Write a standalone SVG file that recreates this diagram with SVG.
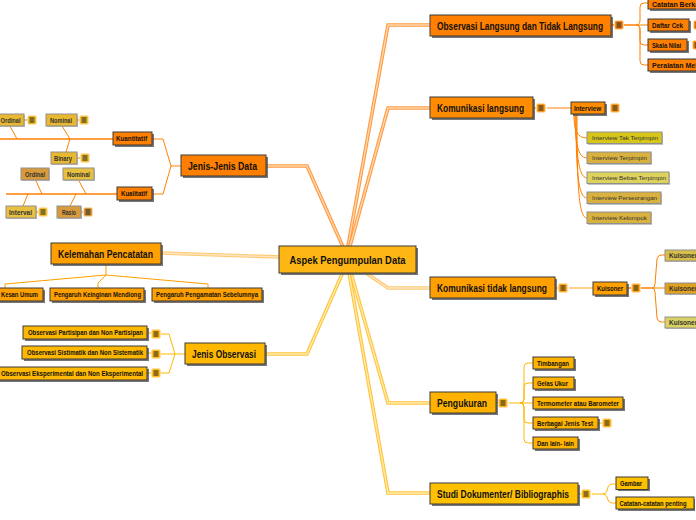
<svg xmlns="http://www.w3.org/2000/svg" xmlns:xlink="http://www.w3.org/1999/xlink" width="696" height="520" viewBox="0 0 696 520">
<style>
.sh{fill:#555;opacity:.8}
.shg{fill:#999;opacity:.6}
.b{stroke:#3a3a3a;stroke-width:1}
.g{stroke:#8f8f8f;stroke-width:1}
text{font-family:"Liberation Sans",Arial,sans-serif;fill:#111}
.t1{font-size:11px;font-weight:bold}
.t2{font-size:7px;font-weight:bold}
.t3{font-size:6px;fill:#333}
.t4{font-size:6.5px;font-weight:bold;fill:#333}
.eo{fill:none;stroke:#FF9A40;stroke-width:3.6}
.io{fill:none;stroke:#FFD7AE;stroke-width:1.4}
.ey{fill:none;stroke:#FFC53A;stroke-width:3.6}
.iy{fill:none;stroke:#FFEAAE;stroke-width:1.4}
.el{fill:none;stroke:#FFC870;stroke-width:3.6}
.il{fill:none;stroke:#FFE6C0;stroke-width:1.4}
.lo{fill:none;stroke:#FF8000;stroke-width:1}
.la{fill:none;stroke:#FFA000;stroke-width:1}
.lg{fill:none;stroke:#FFB800;stroke-width:1}
.lo2{fill:none;stroke:#FF8000;stroke-width:1.6}
</style>
<defs>
<symbol id="menu" viewBox="0 0 10 10" width="10" height="10">
<rect x=".5" y=".5" width="9" height="9" rx="2" stroke="#FFE0B0" stroke-width=".8"/>
<path d="M2.5 3H7.5M2.5 5H7.5M2.5 7H7.5" stroke="#1a1a1a" stroke-width="1.1"/>
</symbol>
</defs>
<rect width="696" height="520" fill="#fff"/>
<g id="connectors">
<path class="eo" d="M348,246 L388,25 H431"/><path class="io" d="M348,246 L388,25 H431"/>
<path class="eo" d="M350,246 L388,108 H431"/><path class="io" d="M350,246 L388,108 H431"/>
<path class="el" d="M366,273 L388,288 H431"/><path class="il" d="M366,273 L388,288 H431"/>
<path class="ey" d="M351,273 L388,403 H431"/><path class="iy" d="M351,273 L388,403 H431"/>
<path class="ey" d="M349,273 L388,493 H431"/><path class="iy" d="M349,273 L388,493 H431"/>
<path class="eo" d="M343,247 L307,166 H266"/><path class="io" d="M343,247 L307,166 H266"/>
<path class="ey" d="M343,272 L307,354 H265"/><path class="iy" d="M343,272 L307,354 H265"/>
<path class="el" d="M280,257 L161,253"/><path class="il" d="M280,257 L161,253"/>
<path class="lo2" d="M611,25 H614 M624,25 H636"/>
<path class="lo" d="M636,25 Q640,25 640,20 V7 Q640,3 644,3 H648 M636,25 H648 M636,25 Q640,25 640,30 V41 Q640,45 644,45 H648 M636,25 Q640,25 640,30 V61 Q640,65 644,65 H648"/>
<path class="lo" d="M533,108 H536 M547,108 H571"/>
<path class="lo" d="M574,114 C574,128 576,138 587,138 M575,114 C575,140 577,158 587,158 M576,114 C576,150 578,178 587,178 M576,114 C576,170 578,198 587,198 M577,114 C577,190 579,218 587,218"/>
<path class="la" d="M555,288 H558"/>
<path fill="none" stroke="#FFC870" stroke-width="1.6" d="M569,288 H593"/>
<path class="lo2" d="M627,288 H631 M641,288 H652"/>
<path class="lo" d="M652,288 Q655,288 655,284 L657,259 Q658,255 661,255 H665 M652,288 H665 M652,288 Q655,288 655,292 L657,318 Q658,322 661,322 H665"/>
<path class="lg" d="M496,403 H498 M509,403 H520"/>
<path class="lg" d="M520,403 Q524,403 524,399 V367 Q524,363 528,363 H533 M520,403 Q524,403 524,399 V387 Q524,383 528,383 H533 M520,403 H533 M520,403 Q524,403 524,407 V419 Q524,423 528,423 H533 M520,403 Q524,403 524,407 V439 Q524,443 528,443 H533 M598,423 H602"/>
<path class="lg" d="M578,494 H581 M592,494 H603 M603,494 Q606,494 607,491 L608,487 Q609,484 612,484 H616 M603,494 Q606,494 607,497 L608,500 Q609,503 612,503 H616"/>
<path class="lo" d="M181,166 H171 L163,139 H152 M171,166 L163,194 H152"/>
<path class="lo2" d="M113,139 H0 M117,194 H6"/>
<path class="lo" d="M10,126 L17,139 M62,126 L70,139 M70,139 L66,152 M24,120 H27 M77,120 H79 M77,158 H80"/>
<path class="lo" d="M36,181 L42,194 M79,181 L86,194 M28,194 L23,206 M76,194 L70,206 M36,212 H38 M81,212 H83"/>
<path class="la" d="M106,265 V275 M106,275 L5,284 V288 M106,275 L98,283 V288 M106,275 L208,284 V288"/>
<path class="lg" d="M185,354 H175 M175,354 L169,334 H161 M175,354 H161 M175,354 L169,373 H161 M147,333 H151 M147,353 H151 M147,373 H151"/>
</g>
<g id="n-center"><rect class="sh" x="281" y="248" width="137" height="27"/><rect class="b" x="279" y="246" width="137" height="27" fill="#FDB614"/><text class="t1" x="347.5" y="263.5" text-anchor="middle" textLength="116" lengthAdjust="spacingAndGlyphs">Aspek Pengumpulan Data</text></g>
<g id="n-obs"><rect class="sh" x="432" y="17" width="181" height="21"/><rect class="b" x="430" y="15" width="181" height="21" fill="#FF7F00"/><text class="t1" x="437" y="29.5" textLength="166" lengthAdjust="spacingAndGlyphs">Observasi Langsung dan Tidak Langsung</text><use href="#menu" x="614" y="20" fill="#FF8A1A"/></g>
<g id="n-catatan"><rect class="sh" x="650" y="-1" width="60" height="12"/><rect class="b" x="648" y="-3" width="60" height="12" fill="#FF7F00"/><text class="t2" x="652" y="6.5" font-size="6.5">Catatan Berkala</text></g>
<g id="n-daftar"><rect class="sh" x="650" y="21" width="41" height="12"/><rect class="b" x="648" y="19" width="41" height="12" fill="#FF7F00"/><text class="t2" x="652" y="27.5" textLength="31" lengthAdjust="spacingAndGlyphs">Daftar Cek</text><use href="#menu" x="693" y="20" fill="#FF8A1A"/></g>
<g id="n-skala"><rect class="sh" x="650" y="41" width="39" height="12"/><rect class="b" x="648" y="39" width="39" height="12" fill="#FF7F00"/><text class="t2" x="652" y="47.5" textLength="29" lengthAdjust="spacingAndGlyphs">Skala Nilai</text><use href="#menu" x="692" y="40" fill="#FF8A1A"/></g>
<g id="n-peralatan"><rect class="sh" x="650" y="61" width="60" height="12"/><rect class="b" x="648" y="59" width="60" height="12" fill="#FF7F00"/><text class="t2" x="652" y="67.5" font-size="6.5">Peralatan Mekanik</text></g>
<g id="n-kom"><rect class="sh" x="432" y="99" width="103" height="21"/><rect class="b" x="430" y="97" width="103" height="21" fill="#FF8C00"/><text class="t1" x="437" y="111.5" textLength="87" lengthAdjust="spacingAndGlyphs">Komunikasi langsung</text><use href="#menu" x="536" y="103" fill="#FF9A1A"/></g>
<g id="n-interview"><rect class="sh" x="573" y="104" width="34" height="12"/><rect class="b" x="571" y="102" width="34" height="12" fill="#FF8C00"/><text class="t2" x="574" y="110.5" textLength="27" lengthAdjust="spacingAndGlyphs">Interview</text><use href="#menu" x="610" y="103" fill="#FF9A1A"/></g>
<g id="n-iv1"><rect class="shg" x="588" y="133" width="75" height="12"/><rect class="g" x="587" y="132" width="75" height="11.5" fill="#D6C61A"/><text class="t3" x="592" y="140" textLength="66" lengthAdjust="spacingAndGlyphs">Interview Tak Terpimpin</text></g>
<g id="n-iv2"><rect class="shg" x="588" y="153" width="64" height="12"/><rect class="g" x="587" y="152" width="64" height="11.5" fill="#D9B13E"/><text class="t3" x="592" y="160" textLength="55" lengthAdjust="spacingAndGlyphs">Interview Terpimpin</text></g>
<g id="n-iv3"><rect class="shg" x="588" y="173" width="82" height="12"/><rect class="g" x="587" y="172" width="82" height="11.5" fill="#DDD25C"/><text class="t3" x="592" y="180" textLength="74" lengthAdjust="spacingAndGlyphs">Interview Bebas Terpimpin</text></g>
<g id="n-iv4"><rect class="shg" x="588" y="193" width="74" height="12"/><rect class="g" x="587" y="192" width="74" height="11.5" fill="#D9B13E"/><text class="t3" x="592" y="200" textLength="65" lengthAdjust="spacingAndGlyphs">Interview Perseorangan</text></g>
<g id="n-iv5"><rect class="shg" x="588" y="213" width="64" height="12"/><rect class="g" x="587" y="212" width="64" height="11.5" fill="#D9B13E"/><text class="t3" x="592" y="220" textLength="55" lengthAdjust="spacingAndGlyphs">Interview Kelompok</text></g>
<g id="n-komtidak"><rect class="sh" x="432" y="279" width="125" height="21"/><rect class="b" x="430" y="277" width="125" height="21" fill="#FFA000"/><text class="t1" x="437" y="291.5" textLength="110" lengthAdjust="spacingAndGlyphs">Komunikasi tidak langsung</text><use href="#menu" x="558" y="283" fill="#FFA81A"/></g>
<g id="n-kuisoner"><rect class="sh" x="595" y="284" width="34" height="13"/><rect class="b" x="593" y="282" width="34" height="13" fill="#FFA000"/><text class="t2" x="597" y="291" textLength="26" lengthAdjust="spacingAndGlyphs">Kuisoner</text><use href="#menu" x="631" y="283" fill="#FFA81A"/></g>
<g id="n-ku1"><rect class="shg" x="666" y="251" width="40" height="11"/><rect class="g" x="665" y="250" width="40" height="11" fill="#D8BE4A"/><text class="t4" x="669" y="257.5">Kuisoner</text></g>
<g id="n-ku2"><rect class="shg" x="666" y="284" width="40" height="11"/><rect class="g" x="665" y="283" width="40" height="11" fill="#E0A020"/><text class="t4" x="669" y="290.5">Kuisoner</text></g>
<g id="n-ku3"><rect class="shg" x="666" y="318" width="40" height="11"/><rect class="g" x="665" y="317" width="40" height="11" fill="#D9D262"/><text class="t4" x="669" y="324.5">Kuisoner</text></g>
<g id="n-pengukuran"><rect class="sh" x="432" y="394" width="66" height="21"/><rect class="b" x="430" y="392" width="66" height="21" fill="#FFB300"/><text class="t1" x="437" y="406.5" textLength="50" lengthAdjust="spacingAndGlyphs">Pengukuran</text><use href="#menu" x="498" y="398" fill="#FFB81A"/></g>
<g id="n-timbangan"><rect class="sh" x="535" y="359" width="41" height="12"/><rect class="b" x="533" y="357" width="41" height="12" fill="#FFB300"/><text class="t2" x="537" y="365.5" textLength="32" lengthAdjust="spacingAndGlyphs">Timbangan</text></g>
<g id="n-gelas"><rect class="sh" x="535" y="379" width="41" height="12"/><rect class="b" x="533" y="377" width="41" height="12" fill="#FFB300"/><text class="t2" x="537" y="385.5" textLength="31" lengthAdjust="spacingAndGlyphs">Gelas Ukur</text></g>
<g id="n-termometer"><rect class="sh" x="535" y="399" width="90" height="12"/><rect class="b" x="533" y="397" width="90" height="12" fill="#FFB300"/><text class="t2" x="537" y="405.5" textLength="82" lengthAdjust="spacingAndGlyphs">Termometer atau Barometer</text></g>
<g id="n-berbagai"><rect class="sh" x="535" y="419" width="65" height="12"/><rect class="b" x="533" y="417" width="65" height="12" fill="#FFB300"/><text class="t2" x="537" y="425.5" textLength="56" lengthAdjust="spacingAndGlyphs">Berbagai Jenis Test</text><use href="#menu" x="602" y="418" fill="#FFBA1A"/></g>
<g id="n-dan"><rect class="sh" x="535" y="439" width="45" height="12"/><rect class="b" x="533" y="437" width="45" height="12" fill="#FFB300"/><text class="t2" x="537" y="445.5" textLength="37" lengthAdjust="spacingAndGlyphs">Dan lain- lain</text></g>
<g id="n-studi"><rect class="sh" x="432" y="485" width="148" height="21"/><rect class="b" x="430" y="483" width="148" height="21" fill="#FFC000"/><text class="t1" x="437" y="497.5" textLength="132" lengthAdjust="spacingAndGlyphs">Studi Dokumenter/ Bibliographis</text><use href="#menu" x="581" y="489" fill="#FFC51A"/></g>
<g id="n-gambar"><rect class="sh" x="618" y="479" width="32" height="12"/><rect class="b" x="616" y="477" width="32" height="12.5" fill="#FFC000"/><text class="t2" x="620" y="485.8" textLength="22" lengthAdjust="spacingAndGlyphs">Gambar</text></g>
<g id="n-catpenting"><rect class="sh" x="618" y="499" width="77" height="12"/><rect class="b" x="616" y="497" width="78" height="12" fill="#FFC000"/><text class="t2" x="619.5" y="505.5" textLength="67" lengthAdjust="spacingAndGlyphs">Catatan-catatan penting</text></g>
<g id="n-jenisdata"><rect class="sh" x="183" y="157" width="85" height="21"/><rect class="b" x="181" y="155" width="85" height="21" fill="#FF7F00"/><text class="t1" x="188" y="169.5" textLength="69" lengthAdjust="spacingAndGlyphs">Jenis-Jenis Data</text></g>
<g id="n-kuantitatif"><rect class="sh" x="115" y="134" width="39" height="13"/><rect class="b" x="113" y="132" width="39" height="13" fill="#FF7F00"/><text class="t2" x="116" y="141" textLength="31" lengthAdjust="spacingAndGlyphs">Kuantitatif</text></g>
<g id="n-kualitatif"><rect class="sh" x="119" y="189" width="35" height="13"/><rect class="b" x="117" y="187" width="35" height="13" fill="#FF7F00"/><text class="t2" x="121" y="196" textLength="26" lengthAdjust="spacingAndGlyphs">Kualitatif</text></g>
<g id="n-ordinal1"><rect class="shg" x="-5" y="115" width="30" height="12"/><rect class="g" x="-6" y="114" width="30" height="12" fill="#E8B830"/><text class="t4" x="0.5" y="122.5" textLength="20" lengthAdjust="spacingAndGlyphs">Ordinal</text><use href="#menu" x="27" y="115" fill="#F0C030"/></g>
<g id="n-nominal1"><rect class="shg" x="47" y="115" width="31" height="12"/><rect class="g" x="46" y="114" width="31" height="12" fill="#E8B830"/><text class="t4" x="50" y="122.5" textLength="22" lengthAdjust="spacingAndGlyphs">Nominal</text><use href="#menu" x="79" y="115" fill="#F0C030"/></g>
<g id="n-binary"><rect class="shg" x="52" y="153" width="26" height="12"/><rect class="g" x="51" y="152" width="26" height="12" fill="#E8B830"/><text class="t4" x="54" y="160.5" textLength="18" lengthAdjust="spacingAndGlyphs">Binary</text><use href="#menu" x="80" y="153" fill="#F0C030"/></g>
<g id="n-ordinal2"><rect class="shg" x="22" y="169" width="28" height="12"/><rect class="g" x="21" y="168" width="28" height="12" fill="#D99A3C"/><text class="t4" x="25" y="176.5" textLength="20" lengthAdjust="spacingAndGlyphs">Ordinal</text></g>
<g id="n-nominal2"><rect class="shg" x="64" y="169" width="31" height="12"/><rect class="g" x="63" y="168" width="31" height="12" fill="#E8C040"/><text class="t4" x="67" y="176.5" textLength="23" lengthAdjust="spacingAndGlyphs">Nominal</text></g>
<g id="n-interval"><rect class="shg" x="7" y="207" width="30" height="12"/><rect class="g" x="6" y="206" width="30" height="12" fill="#E8C040"/><text class="t4" x="9" y="214.5" textLength="23" lengthAdjust="spacingAndGlyphs">Interval</text><use href="#menu" x="38" y="207" fill="#F0C030"/></g>
<g id="n-rasio"><rect class="shg" x="58" y="207" width="24" height="12"/><rect class="g" x="57" y="206" width="24" height="12" fill="#D99A3C"/><text class="t4" x="62" y="214.5" textLength="14" lengthAdjust="spacingAndGlyphs">Rasio</text><use href="#menu" x="83" y="207" fill="#D99A3C"/></g>
<g id="n-kelemahan"><rect class="sh" x="53" y="245" width="110" height="21"/><rect class="b" x="51" y="243" width="110" height="21" fill="#FFA000"/><text class="t1" x="58" y="257.5" textLength="95" lengthAdjust="spacingAndGlyphs">Kelemahan Pencatatan</text></g>
<g id="n-kesan"><rect class="sh" x="-3" y="290" width="48" height="13"/><rect class="b" x="-5" y="288" width="48" height="13" fill="#FFA000"/><text class="t2" x="1" y="297" textLength="37" lengthAdjust="spacingAndGlyphs">Kesan Umum</text></g>
<g id="n-keinginan"><rect class="sh" x="52" y="290" width="94" height="13"/><rect class="b" x="50" y="288" width="94" height="13" fill="#FFA000"/><text class="t2" x="54" y="297" textLength="87" lengthAdjust="spacingAndGlyphs">Pengaruh Keinginan Mendiong</text></g>
<g id="n-pengamatan"><rect class="sh" x="154" y="290" width="110" height="13"/><rect class="b" x="152" y="288" width="110" height="13" fill="#FFA000"/><text class="t2" x="156" y="297" textLength="102" lengthAdjust="spacingAndGlyphs">Pengaruh Pengamatan Sebelumnya</text></g>
<g id="n-jenisobs"><rect class="sh" x="187" y="345" width="80" height="21"/><rect class="b" x="185" y="343" width="80" height="21" fill="#FFB800"/><text class="t1" x="192" y="357.5" textLength="64" lengthAdjust="spacingAndGlyphs">Jenis Observasi</text></g>
<g id="n-obs1"><rect class="sh" x="25" y="328" width="124" height="13"/><rect class="b" x="23" y="326" width="124" height="13" fill="#FFB800"/><text class="t2" x="28" y="335" textLength="115" lengthAdjust="spacingAndGlyphs">Observasi Partisipan dan Non Partisipan</text><use href="#menu" x="151" y="329" fill="#FFBE1A"/></g>
<g id="n-obs2"><rect class="sh" x="24" y="348" width="125" height="13"/><rect class="b" x="22" y="346" width="125" height="13" fill="#FFB800"/><text class="t2" x="27" y="355" textLength="116" lengthAdjust="spacingAndGlyphs">Observasi Sistimatik dan Non Sistematik</text><use href="#menu" x="151" y="349" fill="#FFBE1A"/></g>
<g id="n-obs3"><rect class="sh" x="-1" y="369" width="150" height="13"/><rect class="b" x="-3" y="367" width="150" height="13" fill="#FFB800"/><text class="t2" x="1" y="376" textLength="142" lengthAdjust="spacingAndGlyphs">Observasi Eksperimental dan Non Eksperimental</text><use href="#menu" x="151" y="368" fill="#FFBE1A"/></g>
</svg>
